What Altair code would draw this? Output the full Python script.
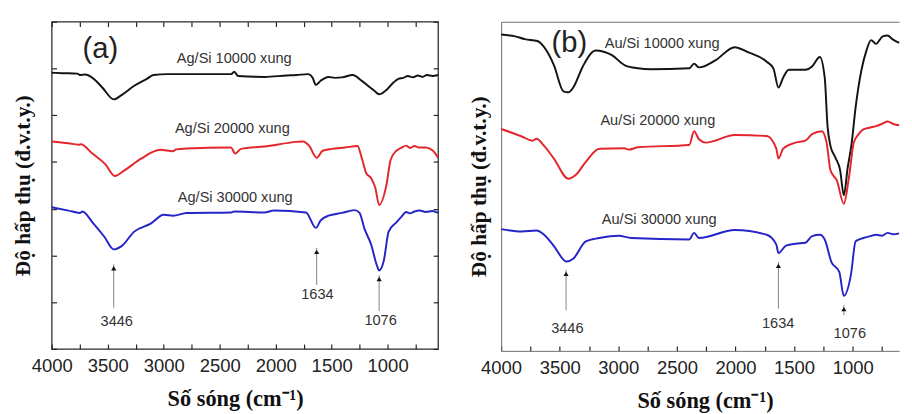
import altair as alt
import pandas as pd

# ---------------- Panel (a): Ag/Si ----------------
ag10_w = [4000, 3900, 3770, 3749, 3700, 3636, 3550, 3446, 3376, 3263, 3150, 3090, 2968, 2700, 2396, 2370, 2335, 2101, 1900, 1815,
          1711, 1670, 1641, 1598, 1529, 1470, 1407, 1312, 1234, 1121, 1076, 1017, 948, 904, 860, 820, 774, 730, 690, 650, 600, 550]
ag10_a = [5.91, 5.90, 5.89, 5.86, 5.87, 5.80, 5.60, 5.34, 5.43, 5.63, 5.78, 5.86, 5.88, 5.88, 5.88, 5.93, 5.84, 5.82, 5.85, 5.86,
          5.88, 5.80, 5.65, 5.74, 5.82, 5.80, 5.81, 5.86, 5.74, 5.53, 5.45, 5.53, 5.70, 5.78, 5.80, 5.84, 5.81, 5.85, 5.82, 5.86, 5.84, 5.86]

ag20_w = [4000, 3850, 3760, 3740, 3636, 3520, 3436, 3350, 3202, 3029, 2916, 2890, 2795, 2400, 2361, 2309, 2101, 1815, 1754, 1702,
          1633, 1581, 1500, 1381, 1269, 1234, 1191, 1150, 1110, 1076, 1010, 974, 922, 880, 835, 800, 760, 720, 662, 620, 580, 550]
ag20_a = [4.44, 4.40, 4.37, 4.38, 4.18, 3.95, 3.70, 3.82, 4.07, 4.26, 4.23, 4.27, 4.29, 4.31, 4.18, 4.28, 4.33, 4.43, 4.44, 4.35,
          4.09, 4.24, 4.28, 4.31, 4.34, 4.11, 3.76, 3.66, 3.45, 3.08, 3.52, 4.04, 4.24, 4.30, 4.35, 4.30, 4.34, 4.31, 4.31, 4.28, 4.20, 4.09]

ag30_w = [4000, 3850, 3749, 3725, 3636, 3530, 3446, 3376, 3263, 3116, 3000, 2916, 2795, 2396, 2370, 2101, 2015, 1730, 1641, 1598,
          1529, 1407, 1295, 1251, 1208, 1147, 1095, 1076, 1035, 991, 922, 880, 835, 800, 760, 714, 660, 600, 550]
ag30_a = [3.03, 2.96, 2.91, 2.94, 2.71, 2.40, 2.13, 2.20, 2.51, 2.68, 2.87, 2.85, 2.91, 2.92, 2.94, 2.92, 2.96, 2.92, 2.59, 2.75,
          2.85, 2.91, 2.97, 2.91, 2.58, 2.23, 1.78, 1.68, 1.88, 2.51, 2.71, 2.82, 2.93, 2.90, 2.94, 2.96, 2.93, 2.95, 2.91]

ag_names = ["Ag/Si 10000 xung", "Ag/Si 20000 xung", "Ag/Si 30000 xung"]
ag_label_w = [2370, 2387, 2361]
ag_label_a = [6.23, 4.73, 3.24]

ag_peak_w = [3446, 1634, 1076]
ag_peak_tip = [1.81, 2.16, 1.58]
ag_peak_base = [0.88, 1.37, 0.81]
ag_peak_lw = [3419, 1627, 1063]
ag_peak_la = [0.60, 1.18, 0.62]

# ---------------- Panel (b): Au/Si ----------------
au10_w = [4000, 3880, 3798, 3691, 3633, 3550, 3468, 3426, 3385, 3303, 3220, 3195, 3055, 2948, 2832, 2725, 2395, 2354, 2312, 2172,
          2007, 1900, 1734, 1677, 1634, 1594, 1545, 1404, 1347, 1281, 1239, 1215, 1190, 1150, 1108, 1076, 1043, 1010, 975, 926,
          884, 843, 802, 744, 703, 662, 604]
au10_a = [6.73, 6.69, 6.63, 6.59, 6.46, 6.08, 5.52, 5.50, 5.60, 6.05, 6.36, 6.39, 6.29, 6.08, 6.01, 5.99, 6.01, 6.11, 6.03, 6.18,
          6.46, 6.36, 6.15, 6.01, 5.60, 5.81, 5.98, 5.98, 6.05, 6.25, 5.81, 4.78, 4.36, 4.12, 3.85, 3.31, 3.90, 4.40, 5.19, 5.97,
          6.38, 6.61, 6.53, 6.69, 6.71, 6.63, 6.55]

au20_w = [4000, 3823, 3732, 3699, 3633, 3550, 3426, 3360, 3278, 3162, 2948, 2915, 2832, 2395, 2354, 2312, 2254, 2007, 1734, 1652,
          1634, 1594, 1487, 1404, 1347, 1264, 1223, 1190, 1135, 1076, 1033, 991, 950, 909, 850, 802, 750, 703, 650, 604]
au20_a = [4.72, 4.56, 4.47, 4.51, 4.36, 4.09, 3.66, 3.75, 4.02, 4.30, 4.31, 4.28, 4.33, 4.38, 4.67, 4.50, 4.43, 4.59, 4.57, 4.30,
          4.09, 4.30, 4.43, 4.47, 4.61, 4.67, 4.43, 3.84, 3.62, 3.13, 3.68, 4.43, 4.61, 4.71, 4.75, 4.78, 4.83, 4.88, 4.82, 4.80]

au30_w = [4000, 3823, 3699, 3633, 3550, 3443, 3385, 3278, 3162, 2997, 2890, 2395, 2354, 2312, 2007, 1734, 1652, 1634, 1569, 1487,
          1404, 1347, 1281, 1239, 1182, 1115, 1076, 1016, 975, 909, 850, 802, 750, 703, 650, 604]
au30_a = [2.59, 2.54, 2.56, 2.47, 2.23, 1.90, 1.96, 2.33, 2.40, 2.45, 2.40, 2.37, 2.51, 2.40, 2.57, 2.47, 2.26, 2.08, 2.24, 2.28,
          2.30, 2.44, 2.47, 2.37, 1.89, 1.68, 1.17, 1.61, 2.33, 2.40, 2.44, 2.47, 2.45, 2.51, 2.48, 2.50]

au_names = ["Au/Si 10000 xung", "Au/Si 20000 xung", "Au/Si 30000 xung"]
au_label_w = [2626, 2663, 2651]
au_label_a = [6.55, 4.90, 2.80]

au_peak_w = [3446, 1634, 1076]
au_peak_tip = [1.72, 1.89, 0.97]
au_peak_base = [0.86, 0.90, 0.76]
au_peak_lw = [3435, 1636, 1025]
au_peak_la = [0.49, 0.59, 0.37]

peak_text = ["3446", "1634", "1076"]
letters = ["(a)", "(b)"]
letter_w = [3566, 3418]
letter_a = [6.42, 6.55]

tick_values = [4000, 3750, 3500, 3250, 3000, 2750, 2500, 2250, 2000, 1750, 1500, 1250, 1000, 750]
colors = ["#141414", "#e3262b", "#2424c8"]

SANS = "Liberation Sans"
SERIF = "Liberation Serif"
X_TITLE = "Số sóng (cm⁻¹)"
Y_TITLE = "Độ hấp thụ (đ.v.t.y.)"


def lines_df(ws, ys, names):
    frames = [pd.DataFrame({"w": w, "a": y, "s": n}) for w, y, n in zip(ws, ys, names)]
    return pd.concat(frames, ignore_index=True)


def make_panel(df, names, lab_w, lab_a, pk_w, pk_tip, pk_base, pk_lw, pk_la,
               letter, let_w, let_a, dom_min, width, height, framed, title_x):
    xs = alt.Scale(domain=[dom_min, 4000], reverse=True, nice=False, zero=False)
    ys = alt.Scale(domain=[0, 7], nice=False, zero=False)
    frame_col = "#2a2a2a" if framed else "#6a6a6a"

    x_bottom = alt.Axis(orient="bottom", values=tick_values, format="d",
                        labelExpr="datum.value % 500 === 0 ? datum.label : ''",
                        offset=-5, tickSize=5, tickColor="#222", tickWidth=1.2,
                        domain=False, grid=False, labelFlush=False, labelOverlap=False,
                        labelFont=SANS, labelFontSize=19, labelColor="#222", labelPadding=8,
                        title=X_TITLE, titleFont=SERIF, titleFontSize=23, titleFontWeight="bold",
                        titleColor="#111", titlePadding=13, titleX=title_x)
    if framed:
        y_left = alt.Axis(orient="left", values=list(range(8)), labels=False, offset=-5, tickSize=5,
                          tickColor="#222", tickWidth=1.2, domain=False, grid=False,
                          title=Y_TITLE, titleFont=SERIF, titleFontSize=22, titleFontWeight="bold",
                          titleColor="#111", titlePadding=17)
    else:
        y_left = alt.Axis(orient="left", labels=False, ticks=False, domain=True, domainColor=frame_col,
                          domainWidth=1, grid=False,
                          title=Y_TITLE, titleFont=SERIF, titleFontSize=22, titleFontWeight="bold",
                          titleColor="#111", titlePadding=11)

    lines = alt.Chart(df).mark_line(strokeWidth=2.0, interpolate="monotone").encode(
        x=alt.X("w:Q", scale=xs, axis=x_bottom),
        y=alt.Y("a:Q", scale=ys, axis=y_left),
        color=alt.Color("s:N", scale=alt.Scale(domain=names, range=colors), legend=None),
        detail="s:N",
    )

    lab_df = pd.DataFrame({"w": lab_w, "a": lab_a, "t": names})
    if framed:
        x_top = alt.Axis(orient="top", values=tick_values, labels=False, offset=-5, tickSize=5,
                         tickColor="#222", tickWidth=1.2, domain=False, grid=False, title=None,
                         minExtent=0, maxExtent=0)
        y_right = alt.Axis(orient="right", values=list(range(8)), labels=False, offset=-5, tickSize=5,
                           tickColor="#222", tickWidth=1.2, domain=False, grid=False, title=None,
                           minExtent=0, maxExtent=0)
    else:
        x_top = alt.Axis(orient="top", labels=False, ticks=False, domain=True, domainColor=frame_col,
                         domainWidth=1, grid=False, title=None, minExtent=0, maxExtent=0)
        y_right = None
    lab_y = alt.Y("a:Q", scale=ys, axis=y_right) if y_right is not None else alt.Y("a:Q", scale=ys, axis=None)
    labels = alt.Chart(lab_df).mark_text(font=SANS, fontSize=15, color="#333").encode(
        x=alt.X("w:Q", scale=xs, axis=x_top), y=lab_y, text="t:N")

    pk_df = pd.DataFrame({"w": pk_w, "tip": pk_tip, "base": pk_base, "lw": pk_lw, "la": pk_la, "t": peak_text})
    if framed:
        rx = alt.X("w:Q", scale=xs, axis=None)
    else:
        rx = alt.X("w:Q", scale=xs, axis=alt.Axis(orient="bottom", labels=False, ticks=False, domain=True,
                                                   domainColor=frame_col, domainWidth=1, grid=False,
                                                   title=None, minExtent=0, maxExtent=0))
    rules = alt.Chart(pk_df).mark_rule(color="#808080", strokeWidth=1).encode(
        x=rx, y=alt.Y("tip:Q", scale=ys, axis=None), y2="base:Q")
    heads = alt.Chart(pk_df).mark_point(shape="triangle-up", filled=True, color="#111", opacity=1,
                                        size=28, yOffset=4).encode(
        x=alt.X("w:Q", scale=xs, axis=None), y=alt.Y("tip:Q", scale=ys, axis=None))
    pk_text = alt.Chart(pk_df).mark_text(font=SANS, fontSize=15, color="#333").encode(
        x=alt.X("lw:Q", scale=xs, axis=None), y=alt.Y("la:Q", scale=ys, axis=None), text="t:N")

    let_df = pd.DataFrame({"w": [let_w], "a": [let_a], "t": [letter]})
    let_text = alt.Chart(let_df).mark_text(font=SANS, fontSize=30, color="#222").encode(
        x=alt.X("w:Q", scale=xs, axis=None), y=alt.Y("a:Q", scale=ys, axis=None), text="t:N")

    view = alt.ViewBackground(stroke=frame_col, strokeWidth=1.3) if framed else alt.ViewBackground(stroke="transparent")
    return alt.layer(lines, labels, rules, heads, pk_text, let_text).resolve_axis(
        x="independent", y="independent").properties(width=width, height=height, view=view)


df_a = lines_df([ag10_w, ag20_w, ag30_w], [ag10_a, ag20_a, ag30_a], ag_names)
df_b = lines_df([au10_w, au20_w, au30_w], [au10_a, au20_a, au30_a], au_names)

panel_a = make_panel(df_a, ag_names, ag_label_w, ag_label_a, ag_peak_w, ag_peak_tip, ag_peak_base,
                     ag_peak_lw, ag_peak_la, letters[0], letter_w[0], letter_a[0], 550, 398, 337, True, 189)
panel_b = make_panel(df_b, au_names, au_label_w, au_label_a, au_peak_w, au_peak_tip, au_peak_base,
                     au_peak_lw, au_peak_la, letters[1], letter_w[1], letter_a[1], 604, 410, 339, False, 210)

chart = alt.hconcat(panel_a, panel_b, spacing=25).properties(
    padding={"left": 3, "top": 6, "right": 0, "bottom": 0}
).configure(background="white")

chart.save("out.html", embed_options={"renderer": "svg", "actions": False})
